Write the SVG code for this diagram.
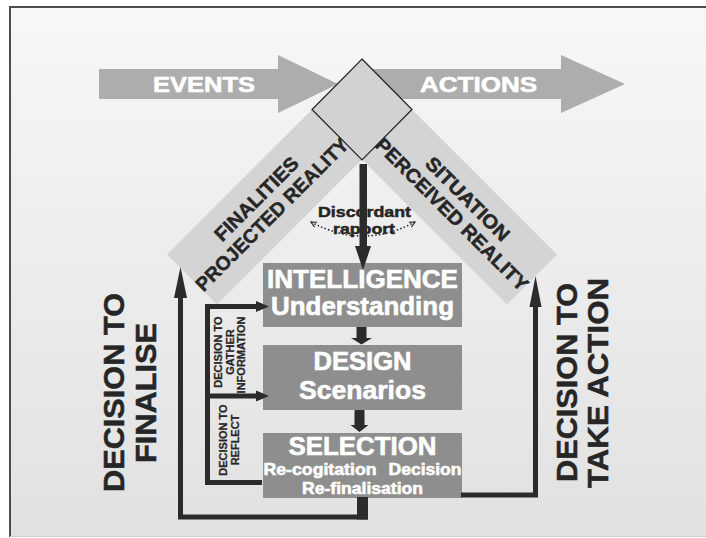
<svg xmlns="http://www.w3.org/2000/svg" width="706" height="538" viewBox="0 0 706 538">
<defs>
  <linearGradient id="bg" x1="0" y1="0" x2="0" y2="1">
    <stop offset="0" stop-color="#f7f7f7"/>
    <stop offset="1" stop-color="#e1e1e1"/>
  </linearGradient>
  <marker id="dotHead" viewBox="0 0 10 10" refX="9" refY="5" markerWidth="7" markerHeight="7" orient="auto-start-reverse" markerUnits="userSpaceOnUse">
    <path d="M1,1 L9,5 L1,9" fill="none" stroke="#2b2b2b" stroke-width="1.6"/>
  </marker>
  <style>
    .bold { font-family: "Liberation Sans", Arial, sans-serif; font-weight: bold; }
    .white { fill: #ffffff; stroke: #ffffff; stroke-width: 0.6; }
    .dark { fill: #262626; stroke: #262626; stroke-width: 0.5; }
    .thin { stroke-width: 0.25; }
    .bigArrow { fill: #adadad; }
    .band { fill: #d4d4d4; }
    .box { fill: #8e8e8e; }
    .line { fill: none; stroke: #2b2b2b; stroke-width: 5; }
    .solid { fill: #2b2b2b; }
  </style>
</defs>

<rect x="10" y="7" width="720" height="530" fill="url(#bg)"/>
<path d="M10,537 V7 H706" fill="none" stroke="#4d4d4d" stroke-width="2"/>
<path d="M10,536.5 H706" fill="none" stroke="#d0d0d0" stroke-width="1"/>

<g id="events">
  <polygon class="bigArrow" points="99,69 278,69 278,55 338,84 278,113 278,99 99,99"/>
  <text class="bold white" x="204" y="92" font-size="22.5" text-anchor="middle" textLength="102" lengthAdjust="spacingAndGlyphs">EVENTS</text>
</g>
<g id="actions">
  <polygon class="bigArrow" points="362,69 561,69 561,55 625,84 561,113 561,99 362,99"/>
  <text class="bold white" x="478.5" y="92" font-size="22.5" text-anchor="middle" textLength="117" lengthAdjust="spacingAndGlyphs">ACTIONS</text>
</g>

<g id="finalities">
  <polygon class="band" points="312,109.5 362,159.5 217,304.5 167,254.5"/>
  <g transform="translate(264,206.5) rotate(-45)">
    <text class="bold dark" x="0" y="-4" font-size="19.5" text-anchor="middle" textLength="110" lengthAdjust="spacingAndGlyphs">FINALITIES</text>
    <text class="bold dark" x="0" y="18" font-size="19.5" text-anchor="middle" textLength="207" lengthAdjust="spacingAndGlyphs">PROJECTED REALITY</text>
  </g>
</g>
<g id="situation">
  <polygon class="band" points="412,109.5 362,159.5 507,304.5 557,254.5"/>
  <g transform="translate(460,206.5) rotate(45)">
    <text class="bold dark" x="0" y="-4" font-size="19.5" text-anchor="middle" textLength="110" lengthAdjust="spacingAndGlyphs">SITUATION</text>
    <text class="bold dark" x="0" y="18" font-size="19.5" text-anchor="middle" textLength="207" lengthAdjust="spacingAndGlyphs">PERCEIVED REALITY</text>
  </g>
</g>

<g id="diamond">
  <polygon points="362,59 412,109.5 362,160 312,109.5" fill="#d2d2d2" stroke="#222222" stroke-width="1.2"/>
</g>

<g id="intelligence">
  <rect class="box" x="263" y="263" width="199" height="64"/>
  <text class="bold white" x="362.5" y="288" font-size="25" text-anchor="middle" textLength="191" lengthAdjust="spacingAndGlyphs">INTELLIGENCE</text>
  <text class="bold white" x="362.5" y="315" font-size="25" text-anchor="middle" textLength="183" lengthAdjust="spacingAndGlyphs">Understanding</text>
</g>
<g id="design">
  <rect class="box" x="263" y="345" width="199" height="65"/>
  <text class="bold white" x="362.5" y="370" font-size="25" text-anchor="middle" textLength="98" lengthAdjust="spacingAndGlyphs">DESIGN</text>
  <text class="bold white" x="362.5" y="399" font-size="25" text-anchor="middle" textLength="127" lengthAdjust="spacingAndGlyphs">Scenarios</text>
</g>
<g id="selection">
  <rect class="box" x="263" y="433" width="199" height="65"/>
  <text class="bold white" x="362.5" y="455" font-size="25" text-anchor="middle" textLength="148" lengthAdjust="spacingAndGlyphs">SELECTION</text>
  <text class="bold white" x="320" y="475" font-size="17" text-anchor="middle" textLength="113" lengthAdjust="spacingAndGlyphs">Re-cogitation</text>
  <text class="bold white" x="425" y="475" font-size="17" text-anchor="middle" textLength="73" lengthAdjust="spacingAndGlyphs">Decision</text>
  <text class="bold white" x="362.5" y="494" font-size="17" text-anchor="middle" textLength="121" lengthAdjust="spacingAndGlyphs">Re-finalisation</text>
</g>

<g id="discordant-rapport">
  <path d="M311,222 Q363,250 415,222" fill="none" stroke="#2b2b2b" stroke-width="1.6" stroke-dasharray="1.5 2.2" marker-start="url(#dotHead)" marker-end="url(#dotHead)"/>
  <text class="bold dark" x="364.5" y="217" font-size="15.5" text-anchor="middle" textLength="93" lengthAdjust="spacingAndGlyphs">Discordant</text>
  <text class="bold dark" x="364" y="234" font-size="15.5" text-anchor="middle" textLength="62" lengthAdjust="spacingAndGlyphs">rapport</text>
</g>

<g id="labels">
  <text class="bold dark thin" transform="translate(222,352) rotate(-90)" font-size="11" text-anchor="middle">DECISION TO</text>
  <text class="bold dark thin" transform="translate(233.5,352) rotate(-90)" font-size="11" text-anchor="middle">GATHER</text>
  <text class="bold dark thin" transform="translate(245,355) rotate(-90)" font-size="11" text-anchor="middle">INFORMATION</text>
  <text class="bold dark thin" transform="translate(227,440) rotate(-90)" font-size="11" text-anchor="middle">DECISION TO</text>
  <text class="bold dark thin" transform="translate(239,440) rotate(-90)" font-size="11" text-anchor="middle">REFLECT</text>
  <text class="bold dark" transform="translate(124,392.5) rotate(-90)" font-size="30" text-anchor="middle" textLength="199" lengthAdjust="spacingAndGlyphs">DECISION TO</text>
  <text class="bold dark" transform="translate(156,393) rotate(-90)" font-size="30" text-anchor="middle" textLength="140" lengthAdjust="spacingAndGlyphs">FINALISE</text>
  <text class="bold dark" transform="translate(577,382.5) rotate(-90)" font-size="30" text-anchor="middle" textLength="199" lengthAdjust="spacingAndGlyphs">DECISION TO</text>
  <text class="bold dark" transform="translate(608,383) rotate(-90)" font-size="30" text-anchor="middle" textLength="210" lengthAdjust="spacingAndGlyphs">TAKE ACTION</text>
</g>

<g id="connectors">
  <rect class="solid" x="359.5" y="164" width="7.5" height="84"/>
  <polygon class="solid" points="355,246 371,246 363,270"/>
  <rect class="solid" x="356.5" y="327" width="10" height="12"/>
  <polygon class="solid" points="351,338 372,338 361.5,344.5"/>
  <rect class="solid" x="354.5" y="410" width="10" height="16"/>
  <polygon class="solid" points="350.5,425 368.5,425 359.5,432"/>
  <path class="line" d="M262,482.5 H207.5 V306.5 H258"/>
  <path class="line" d="M207.5,396 H258"/>
  <polygon class="solid" points="256,301 256,312 269,306.5"/>
  <polygon class="solid" points="256,390.5 256,401.5 269,396"/>
  <rect class="solid" x="357" y="497" width="11" height="22.5"/>
  <path class="line" d="M368,517 H180.5 V294"/>
  <polygon class="solid" points="174,298 187,298 180.5,267"/>
  <path class="line" d="M461,495 H535.5 V303"/>
  <polygon class="solid" points="529.5,307 541.5,307 535.5,276"/>
</g>
</svg>
